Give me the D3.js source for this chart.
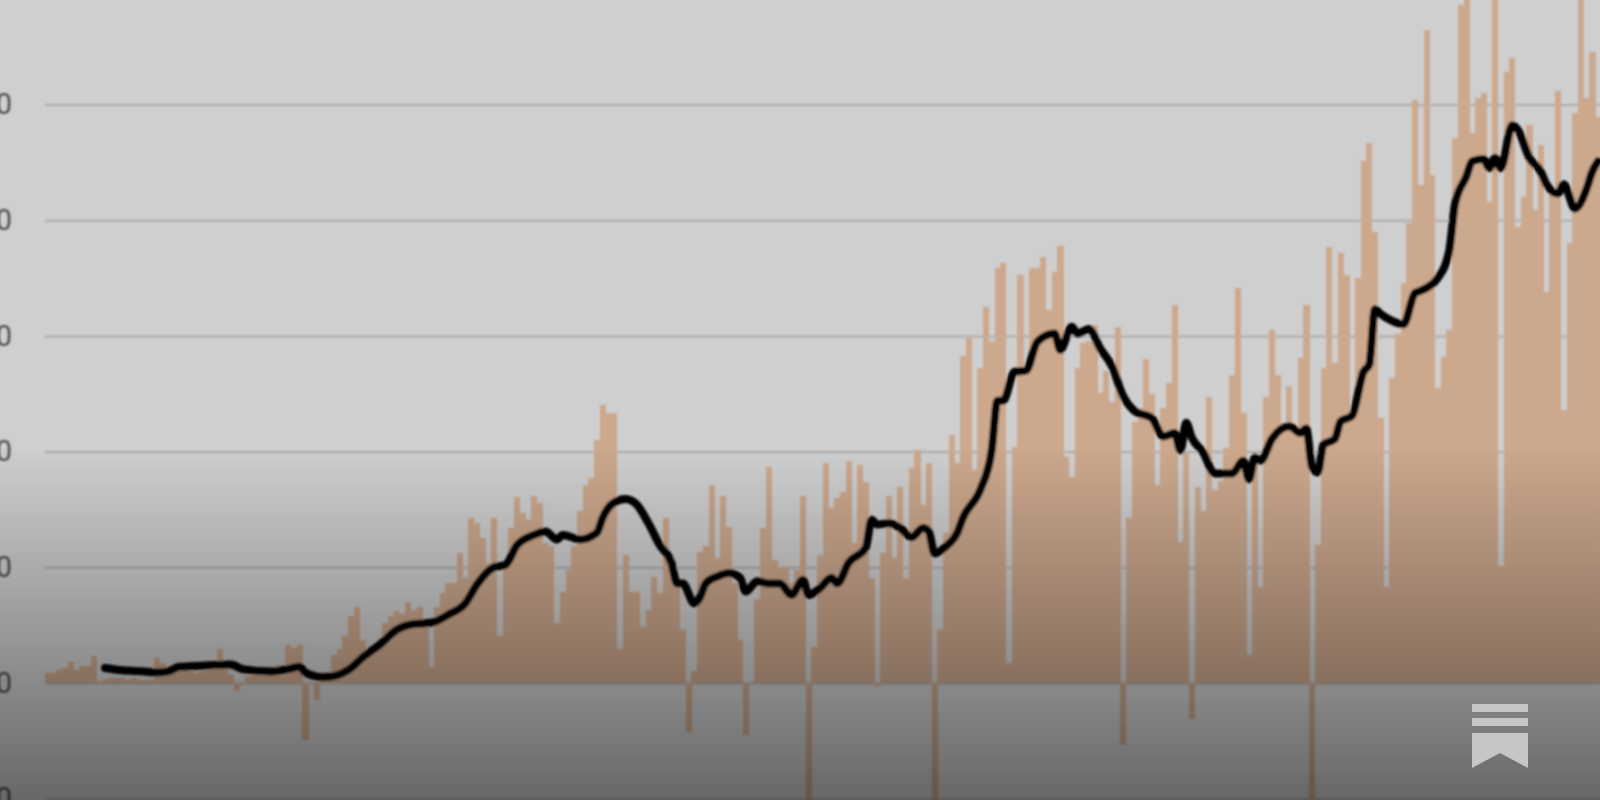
<!DOCTYPE html>
<html><head><meta charset="utf-8">
<script src="https://cdn.jsdelivr.net/npm/d3@7"></script>
<style>html,body{margin:0;padding:0;background:#d0d0d0;overflow:hidden}svg{display:block}</style>
</head><body><svg id="c" width="1600" height="800"></svg>
<script>
const tickValues = [-100,0,100,200,300,400,500];
const barValues = [
9,9,11,13,18,11,15,15,23,2,
3,4,4,4,3,4,3,3,3,22,17,
10,9,10,12,10,9,10,11,12,29,17,7,-7,-2,
6,7,9,7,8,15,7,33,30,33,-49,0,-15,2,3,
24,29,41,58,66,37,26,26,35,
52,58,62,60,70,63,66,52,14,
66,78,86,86,112,91,143,138,125,104,143,41,
104,134,161,147,141,162,156,121,118,52,
79,98,118,149,171,177,210,240,233,233,29,
111,79,79,48,63,92,78,143,108,86,46,-42,
10,113,118,171,108,162,135,86,37,-45,
0,73,134,187,106,100,100,86,98,162,-104,
31,111,190,151,160,165,192,121,188,174,91,-3,112,162,108,169,91,186,201,154,190,-104,
46,130,214,190,283,298,184,272,325,296,359,363,17,204,353,272,359,359,368,322,355,378,195,178,272,294,296,309,251,270,243,308,-54,
143,226,238,280,250,171,238,259,327,122,199,-31,
169,149,247,167,175,203,266,341,233,24,199,83,247,305,266,225,257,221,281,327,-104,
119,272,377,277,372,353,236,350,451,467,390,229,83,264,302,346,398,504,430,564,439,255,282,305,
471,586,605,475,506,510,416,605,101,528,540,394,420,482,409,465,338,428,512,236,380,493,605,506,545,489
];
const lineIndex = [10,13,17,19,21,23,27,32,34,39,42,44,45,48,50,53,55,58,61,64,67,70,73,75,78,80,82,85,87,89,90,91,93,96,97,99,101,103,105,107,109,110,111,113,114,115,117,119,121,122,124,126,128,130,132,133,135,137,138,140,143,144,145,147,149,151,153,154,155,157,159,160,163,165,166,167,169,171,173,176,177,179,180,182,184,186,188,190,193,195,197,198,199,200,202,204,207,209,210,211,212,214,217,219,220,221,222,223,225,226,228,230,231,232,233,235,237,239,240,243,245,246,248,249,251,252,253,254,256,257,259,261,262,264,265,267,269,270,271];
const lineValues = [13,11,10,9,10,14,15,16,12,10,12,14,9,5,6,13,22,33,46,51,52,59,69,85,100,102,119,128,131,124,128,127,124,130,143,156,159,154,138,119,104,86,86,69,74,86,92,95,91,79,88,86,86,76,89,76,82,91,86,104,117,141,137,138,134,126,134,131,112,118,130,143,167,201,244,244,269,270,295,302,288,308,302,306,289,274,248,235,229,213,216,201,225,212,199,181,181,192,176,195,192,211,222,216,220,187,182,206,211,226,231,269,275,323,319,313,310,337,339,350,374,414,438,451,453,445,454,445,482,478,454,442,431,423,431,410,427,442,451];

const svg = d3.select('#c');
const defs = svg.append('defs');
const blur = defs.append('filter').attr('id','blur').attr('filterUnits','userSpaceOnUse')
  .attr('x',-20).attr('y',-20).attr('width',1640).attr('height',840);
blur.append('feGaussianBlur').attr('stdDeviation',1);
const grad = defs.append('linearGradient').attr('id','shade').attr('x1',0).attr('y1',0).attr('x2',0).attr('y2',1);
grad.append('stop').attr('offset','0').attr('stop-color','#000').attr('stop-opacity',0);
grad.append('stop').attr('offset','0.56').attr('stop-color','#000').attr('stop-opacity',0);
grad.append('stop').attr('offset','1').attr('stop-color','#000').attr('stop-opacity',0.5);

const x = d3.scaleBand().domain(d3.range(barValues.length)).range([45, 45 + barValues.length * 5.72]).padding(0);
const y = d3.scaleLinear().domain([-100,500]).range([798.7,104.5]);

svg.append('rect').attr('width',1600).attr('height',800).attr('fill','#cfcfcf');
const g = svg.append('g').attr('filter','url(#blur)');

const axis = d3.axisLeft(y).tickValues(tickValues).tickSize(-1555).tickPadding(33).tickFormat(d3.format('d'));
const ax = g.append('g').attr('transform','translate(45,0)').call(axis);
ax.select('.domain').remove();
ax.selectAll('line').attr('stroke','#acacac').attr('stroke-width',2);
ax.selectAll('text').attr('fill','#4d4d4d').attr('font-family','Roboto, sans-serif').attr('font-size',29);

g.append('g').attr('shape-rendering','crispEdges').selectAll('rect').data(barValues).join('rect')
  .attr('x',(d,i)=>x(i)).attr('width',x.bandwidth()+0.4)
  .attr('y',d=>Math.min(y(d),y(0))).attr('height',d=>Math.abs(y(d)-y(0)))
  .attr('fill','#cca88d');

const line = d3.line().x(d=>x(d[0])+x.bandwidth()/2).y(d=>y(d[1])).curve(d3.curveMonotoneX);
g.append('path').attr('d',line(d3.zip(lineIndex,lineValues)))
  .attr('fill','none').attr('stroke','#000').attr('stroke-width',8)
  .attr('stroke-linejoin','round').attr('stroke-linecap','round');

svg.append('rect').attr('width',1600).attr('height',800).attr('fill','url(#shade)');

const logo = svg.append('g').attr('fill','#c6c6c6');
logo.append('rect').attr('x',1472).attr('y',704).attr('width',56).attr('height',8);
logo.append('rect').attr('x',1472).attr('y',718).attr('width',56).attr('height',8);
logo.append('path').attr('d','M1472 733H1528V768L1500 753L1472 768Z');
</script></body></html>
